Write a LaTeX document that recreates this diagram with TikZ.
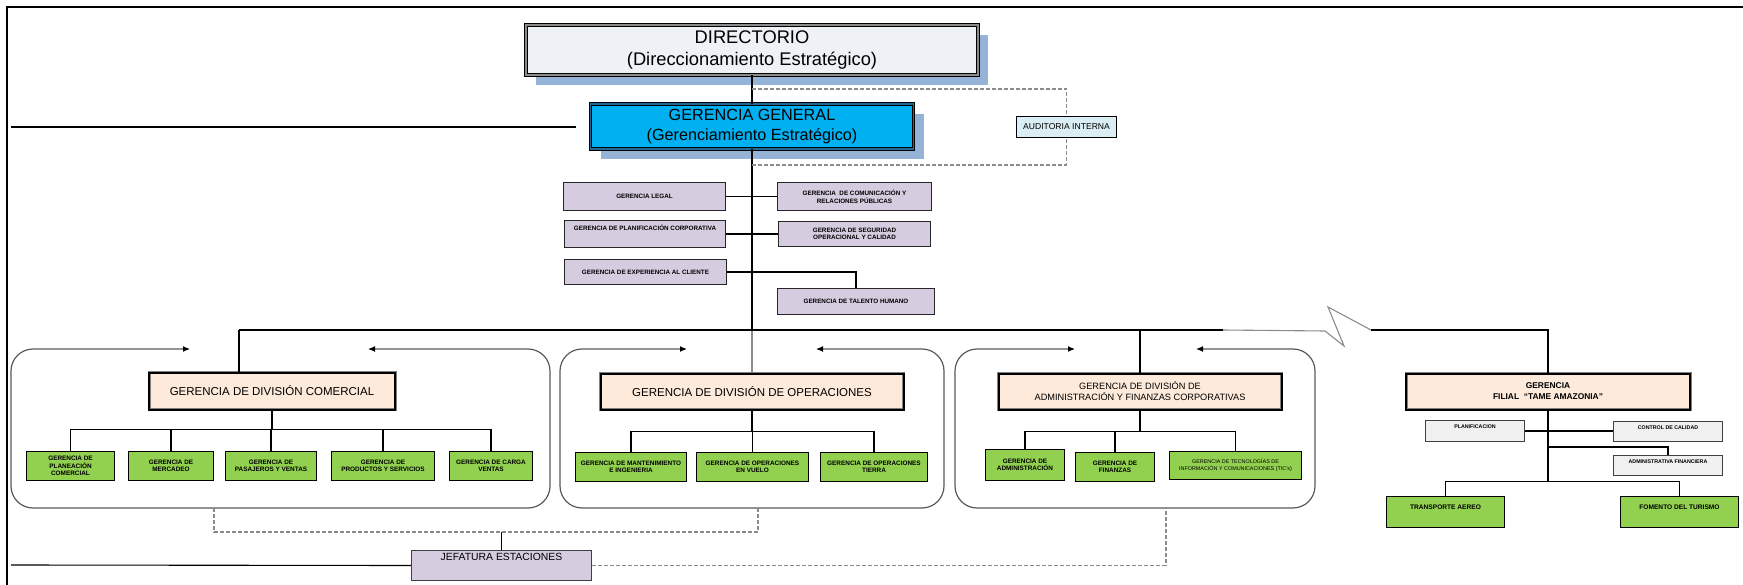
\documentclass[tikz,border=0pt]{standalone}
\usepackage{fontspec}
\setmainfont{Liberation Sans}
\usetikzlibrary{arrows.meta,shadows}

\definecolor{dirfill}{HTML}{EEF1F5}
\definecolor{shadowblue}{HTML}{95B3D7}
\definecolor{ggfill}{HTML}{00B0F0}
\definecolor{ggrim}{HTML}{1E6A96}
\definecolor{lilac}{HTML}{D5CCE0}
\definecolor{peach}{HTML}{FDEADA}
\definecolor{leaf}{HTML}{92D050}
\definecolor{audfill}{HTML}{DAEEF3}
\definecolor{paper}{HTML}{F0F0F0}

\newcommand\setfs[2]{\fontsize{#1}{#2}\selectfont}

\tikzset{
  box/.style={draw=black, line width=1pt, inner sep=1pt, align=center, text=black},
  dirbox/.style={box, fill=dirfill, double=black!45, double distance=1.8pt, line width=0.8pt,
    general shadow={fill=shadowblue, shadow xshift=10pt, shadow yshift=-10pt},
    font=\setfs{18.3}{22}},
  ggbox/.style={box, fill=ggfill, double=ggrim, double distance=1.6pt, line width=0.8pt,
    general shadow={fill=shadowblue, shadow xshift=10pt, shadow yshift=-10pt},
    font=\setfs{16.2}{20}},
  divbox/.style={box, fill=peach, draw=black!50, double=black, line width=0.5pt, double distance=2pt},
  leafbox/.style={box, fill=leaf, font=\bfseries\setfs{6.4}{7.4}},
  lilacbox/.style={box, fill=lilac, draw=black!85, font=\bfseries\setfs{6.3}{7.6}},
  paperbox/.style={box, fill=paper, draw=black!75},
  audbox/.style={box, fill=audfill, font=\setfs{8.6}{10}},
  jefbox/.style={box, fill=lilac, draw=black!75, line width=1.2pt},
  toplab/.style={anchor=north, inner sep=0pt, align=center, text=black},
  conn/.style={draw=black, line width=1.1pt},
  greyconn/.style={draw=black!45, line width=1.1pt},
  dashconn/.style={draw=black!45, line width=1.2pt, dash pattern=on 4pt off 2pt},
  encl/.style={draw=black!65, line width=1.2pt, rounded corners=22pt,
    {Latex[length=7pt,width=6pt,color=black]}-{Latex[length=7pt,width=6pt,color=black]}},
}

\begin{document}
\begin{tikzpicture}[x=1pt, y=-1pt]
\useasboundingbox (0,0) rectangle (1743,585);

% page frame
\draw[line width=2.6pt] (7,585) -- (7,7) -- (1743,7);

% top levels
\node[dirbox, minimum width=452pt, minimum height=50pt] (dir) at (752,50)
  {DIRECTORIO\\(Direccionamiento Estratégico)};
\node[ggbox, minimum width=323pt, minimum height=45pt] (gg) at (752,126.5)
  {GERENCIA GENERAL\\(Gerenciamiento Estratégico)};
\node[audbox, minimum width=100pt, minimum height=21pt] (aud) at (1066.5,127) {AUDITORIA INTERNA};

% staff units
\node[lilacbox, minimum width=162pt, minimum height=28pt] (leg) at (644.5,196.5) {GERENCIA LEGAL};
\node[lilacbox, minimum width=154pt, minimum height=28pt] (crp) at (854.5,196.5)
  {GERENCIA\ \ DE COMUNICACIÓN Y\\RELACIONES PÚBLICAS};
\node[lilacbox, minimum width=161pt, minimum height=27pt,
  label={[toplab, yshift=-4.5pt, font=\bfseries\setfs{6.3}{7.6}]north:GERENCIA DE PLANIFICACIÓN CORPORATIVA}]
  (pco) at (645,234) {};
\node[lilacbox, minimum width=152pt, minimum height=25pt] (seg) at (854.5,234)
  {GERENCIA DE SEGURIDAD\\OPERACIONAL Y CALIDAD};
\node[lilacbox, minimum width=162pt, minimum height=25pt] (exp) at (645.5,272) {GERENCIA DE EXPERIENCIA AL CLIENTE};
\node[lilacbox, minimum width=157pt, minimum height=26pt] (tal) at (856,301.5) {GERENCIA DE TALENTO HUMANO};

% divisions
\node[divbox, minimum width=246pt, minimum height=37pt, font=\setfs{11.5}{13}] (com) at (272,391)
  {GERENCIA DE DIVISIÓN COMERCIAL};
\node[divbox, minimum width=303pt, minimum height=36pt, font=\setfs{11.5}{13}] (ops) at (752,391.5)
  {GERENCIA DE DIVISIÓN DE OPERACIONES};
\node[divbox, minimum width=283pt, minimum height=36pt, font=\setfs{9.2}{11}] (adm) at (1140,391.5)
  {GERENCIA DE DIVISIÓN DE\\ADMINISTRACIÓN Y FINANZAS CORPORATIVAS};
\node[divbox, minimum width=284pt, minimum height=36pt, font=\bfseries\setfs{8.4}{11}] (fil) at (1548,391.5)
  {GERENCIA\\FILIAL\ \ ``TAME AMAZONIA''};

% commercial units
\node[leafbox, minimum width=88pt, minimum height=29pt] (g11) at (70.5,466) {GERENCIA DE\\PLANEACIÓN\\COMERCIAL};
\node[leafbox, minimum width=85pt, minimum height=29pt] (g12) at (171,466) {GERENCIA DE\\MERCADEO};
\node[leafbox, minimum width=91pt, minimum height=29pt] (g13) at (271,466) {GERENCIA DE\\PASAJEROS Y VENTAS};
\node[leafbox, minimum width=103pt, minimum height=29pt] (g14) at (383,466) {GERENCIA DE\\PRODUCTOS Y SERVICIOS};
\node[leafbox, minimum width=83pt, minimum height=29pt] (g15) at (491,466) {GERENCIA DE CARGA\\VENTAS};

% operations units
\node[leafbox, minimum width=111pt, minimum height=29pt] (g21) at (631,467) {GERENCIA DE MANTENIMIENTO\\E INGENIERIA};
\node[leafbox, minimum width=112pt, minimum height=29pt] (g22) at (752.5,467) {GERENCIA DE OPERACIONES\\EN VUELO};
\node[leafbox, minimum width=107pt, minimum height=29pt] (g23) at (874,467) {GERENCIA DE OPERACIONES\\TIERRA};

% administration units
\node[leafbox, minimum width=79pt, minimum height=31pt] (g31) at (1025,465) {GERENCIA DE\\ADMINISTRACIÓN};
\node[leafbox, minimum width=79pt, minimum height=29pt] (g32) at (1115,467) {GERENCIA DE\\FINANZAS};
\node[leafbox, minimum width=132pt, minimum height=28pt, font=\setfs{5.4}{6.8}] (g33) at (1235.5,465.5)
  {GERENCIA DE TECNOLOGÍAS DE\\INFORMACIÓN Y COMUNICACIONES (TIC's)};

% subsidiary units
\node[paperbox, minimum width=99pt, minimum height=21pt,
  label={[toplab, yshift=-5pt, font=\bfseries\setfs{5.3}{6}]north:PLANIFICACION}] (fpla) at (1475,431) {};
\node[paperbox, minimum width=109pt, minimum height=20pt,
  label={[toplab, yshift=-5pt, font=\bfseries\setfs{5.3}{6}]north:CONTROL DE CALIDAD}] (fctl) at (1668,431) {};
\node[paperbox, minimum width=109pt, minimum height=20pt,
  label={[toplab, yshift=-5pt, font=\bfseries\setfs{5.3}{6}]north:ADMINISTRATIVA FINANCIERA}] (fadf) at (1668,465.5) {};
\node[leafbox, minimum width=118pt, minimum height=31pt,
  label={[toplab, yshift=-9pt, font=\bfseries\setfs{6.6}{7.4}]north:TRANSPORTE AEREO}] (ftra) at (1445.5,512) {};
\node[leafbox, minimum width=118pt, minimum height=31pt,
  label={[toplab, yshift=-9pt, font=\bfseries\setfs{6.6}{7.4}]north:FOMENTO DEL TURISMO}] (ffom) at (1679.5,512) {};

% stations
\node[jefbox, minimum width=180pt, minimum height=30pt,
  label={[toplab, yshift=-3pt, font=\setfs{10.4}{12}]north:JEFATURA ESTACIONES}] (jef) at (501.5,565.5) {};

% division enclosures with their arrows
\draw[encl] (190,349) -- (11,349) -- (11,508) -- (550,508) -- (550,349) -- (368,349);
\draw[encl] (687,349) -- (560,349) -- (560,508) -- (944,508) -- (944,349) -- (816,349);
\draw[encl] (1075,349) -- (955,349) -- (955,508) -- (1315,508) -- (1315,349) -- (1196,349);

% named points of the line work
\coordinate (lt) at (11,127);
\coordinate (lte) at (576,127);
\coordinate (lb) at (11,565);
\coordinate (da) at (752,89);
\coordinate (db) at (752,165);
\coordinate (busL) at (239,330);
\coordinate (brk) at (1223,330);
\coordinate (d1) at (214,508);
\coordinate (d2) at (758,508);
\coordinate (d3) at (1166,508);
\coordinate (dj) at (501.5,532);
\coordinate (fbr) at (1548,447);

% main spine
\draw[conn] (dir.south) -- (gg.north);
\draw[conn] (gg.south) -- (gg.south |- busL);
\draw[greyconn] (gg.south |- busL) -- (ops.north);
\draw[conn] (lt) -- (lte);

% internal audit (dashed)
\draw[dashconn] (da) -| (aud.north);
\draw[dashconn] (db) -| (aud.south);

% staff connectors
\draw[conn] (leg.east) -- (crp.west);
\draw[conn] (pco.east) -- (seg.west);
\draw[conn] (exp.east) -| (tal.north);

% division bus
\draw[conn] (busL) -- (brk);
\draw[conn] (busL) -- (busL |- com.north);
\draw[conn] (adm.north) -- (adm.north |- busL);
\draw[greyconn] (brk) -- (1325,331) -- (1344,346) -- (1328,307) -- (1371,330) coordinate (brkR);
\draw[conn] (brkR) -| (fil.north);

% commercial branch
\draw[conn] (com.south) -- ++(0,20) coordinate (cb1);
\foreach \g in {g11,g12,g13,g14,g15} \draw[conn] (\g.north) |- (cb1);

% operations branch
\draw[conn] (ops.south) -- ++(0,22) coordinate (cb2);
\foreach \g in {g21,g22,g23} \draw[conn] (\g.north) |- (cb2);

% administration branch
\draw[conn] (adm.south) -- ++(0,22) coordinate (cb3);
\foreach \g in {g31,g32,g33} \draw[conn] (\g.north) |- (cb3);

% subsidiary branch
\draw[conn] (fpla.east) -- (fctl.west);
\draw[conn] (fil.south) -- ++(0,72) coordinate (fb);
\draw[conn] (fadf.north) |- (fbr);
\draw[conn] (ftra.north) |- (fb);
\draw[conn] (ffom.north) |- (fb);

% stations
\draw[dashconn] (d1) |- (dj) -| (d2);
\draw[conn] (dj) -- (jef.north);
\draw[dashconn] (jef.east) -| (d3);
\draw[conn] (lb) -- (jef.west);
\end{tikzpicture}
\end{document}
